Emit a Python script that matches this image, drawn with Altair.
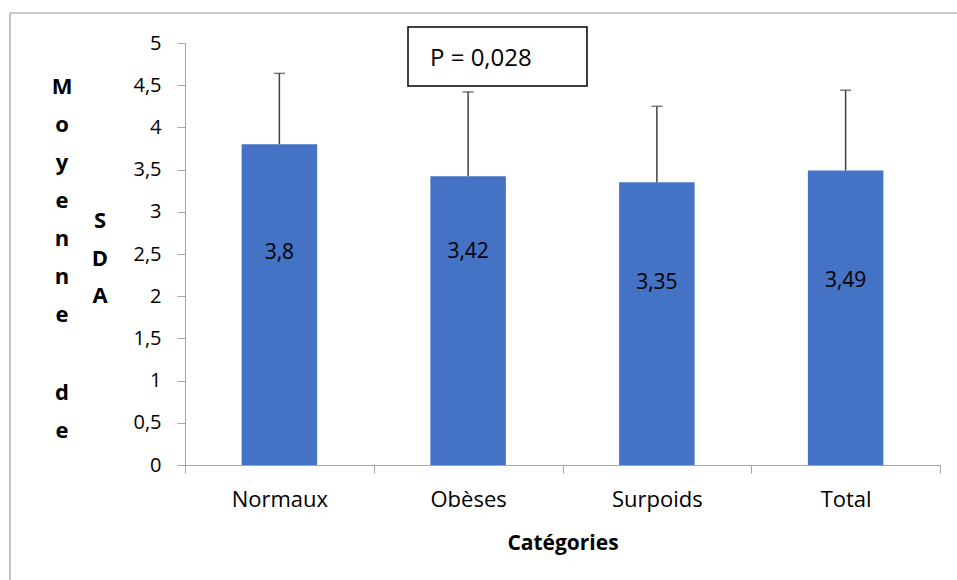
import altair as alt
import pandas as pd

categories = ["Normaux", "Obèses", "Surpoids", "Total"]
means = [3.8, 3.42, 3.35, 3.49]
sds = [0.84, 1.00, 0.90, 0.95]
mean_labels = ["3,8", "3,42", "3,35", "3,49"]
label_pos = [2.51, 2.52, 2.16, 2.18]
y_ticks = [0, 0.5, 1, 1.5, 2, 2.5, 3, 3.5, 4, 4.5, 5]
p_text = "P = 0,028"
y_title_word1 = ["M", "o", "y", "e", "n", "n", "e"]
y_title_word2 = ["d", "e"]
y_title_word3 = ["S", "D", "A"]

FONT = "Open Sans"
GRAY = "#a6a6a6"

df = pd.DataFrame({
    "cat": categories,
    "mean": means,
    "upper": [m + s for m, s in zip(means, sds)],
    "lab": mean_labels,
    "labpos": label_pos,
})

x_enc = alt.X(
    "cat:N", sort=categories,
    scale=alt.Scale(paddingInner=0, paddingOuter=0),
    axis=alt.Axis(
        title="Catégories", tickBand="extent", labelAngle=0,
        labelFontSize=22, labelColor="black", labelPadding=16,
        titleFontSize=21, titleFontWeight="bold", titleColor="black", titlePadding=22,
        domainColor=GRAY, tickColor=GRAY, tickSize=8, grid=False,
    ),
)
y_scale = alt.Scale(domain=[0, 5], nice=False)
y_axis = alt.Axis(
    title=None, values=y_ticks,
    labelExpr="replace(toString(datum.value), '.', ',')",
    labelFontSize=20, labelColor="black", labelPadding=16,
    domainColor=GRAY, tickColor=GRAY, tickSize=8, grid=False,
)

base = alt.Chart(df)

bars = base.mark_bar(color="#4472C4", width=alt.RelativeBandSize(0.4)).encode(
    x=x_enc,
    y=alt.Y("mean:Q", scale=y_scale, axis=y_axis),
)
rules = base.mark_rule(color="#404040", strokeWidth=1.5).encode(
    x=alt.X("cat:N", sort=categories),
    y="mean:Q",
    y2="upper:Q",
)
caps = base.mark_tick(color="#404040", thickness=1.5, size=11).encode(
    x=alt.X("cat:N", sort=categories),
    y="upper:Q",
)
labels = base.mark_text(fontSize=21, color="black", baseline="middle").encode(
    x=alt.X("cat:N", sort=categories),
    y="labpos:Q",
    text="lab:N",
)

one = alt.Data(values=[{"k": 1}])

border = alt.Chart(one).mark_rect(fillOpacity=0, stroke="#9a9a9a", strokeWidth=1.2).encode(
    x=alt.value(-175), x2=alt.value(790), y=alt.value(-30), y2=alt.value(560)
)
pbox = alt.Chart(one).mark_rect(fill="white", stroke="black", strokeWidth=1.5).encode(
    x=alt.value(223), x2=alt.value(402), y=alt.value(-16), y2=alt.value(43)
)
ptext = alt.Chart(one).mark_text(align="left", baseline="alphabetic", fontSize=24, color="black").encode(
    x=alt.value(245), y=alt.value(23), text=alt.value(p_text)
)


def title_col(letters, x, y, lh):
    return alt.Chart(one).mark_text(
        align="center", baseline="alphabetic", fontSize=22, fontWeight="bold",
        color="black", lineHeight=lh,
    ).encode(x=alt.value(x), y=alt.value(y), text=alt.value(letters))


yt1 = title_col(y_title_word1, -123, 51, 38)
yt2 = title_col(y_title_word2, -123, 357, 38)
yt3 = title_col(y_title_word3, -85, 185, 37.5)

chart = alt.layer(border, bars, rules, caps, labels, pbox, ptext, yt1, yt2, yt3).properties(
    width=755, height=422,
    autosize=alt.AutoSizeParams(type="none"),
    padding={"left": 185, "top": 43, "right": 17, "bottom": 115},
    background="white",
).configure(font=FONT).configure_view(stroke=None)

chart.save("out.html", embed_options={"renderer": "svg", "actions": False})
